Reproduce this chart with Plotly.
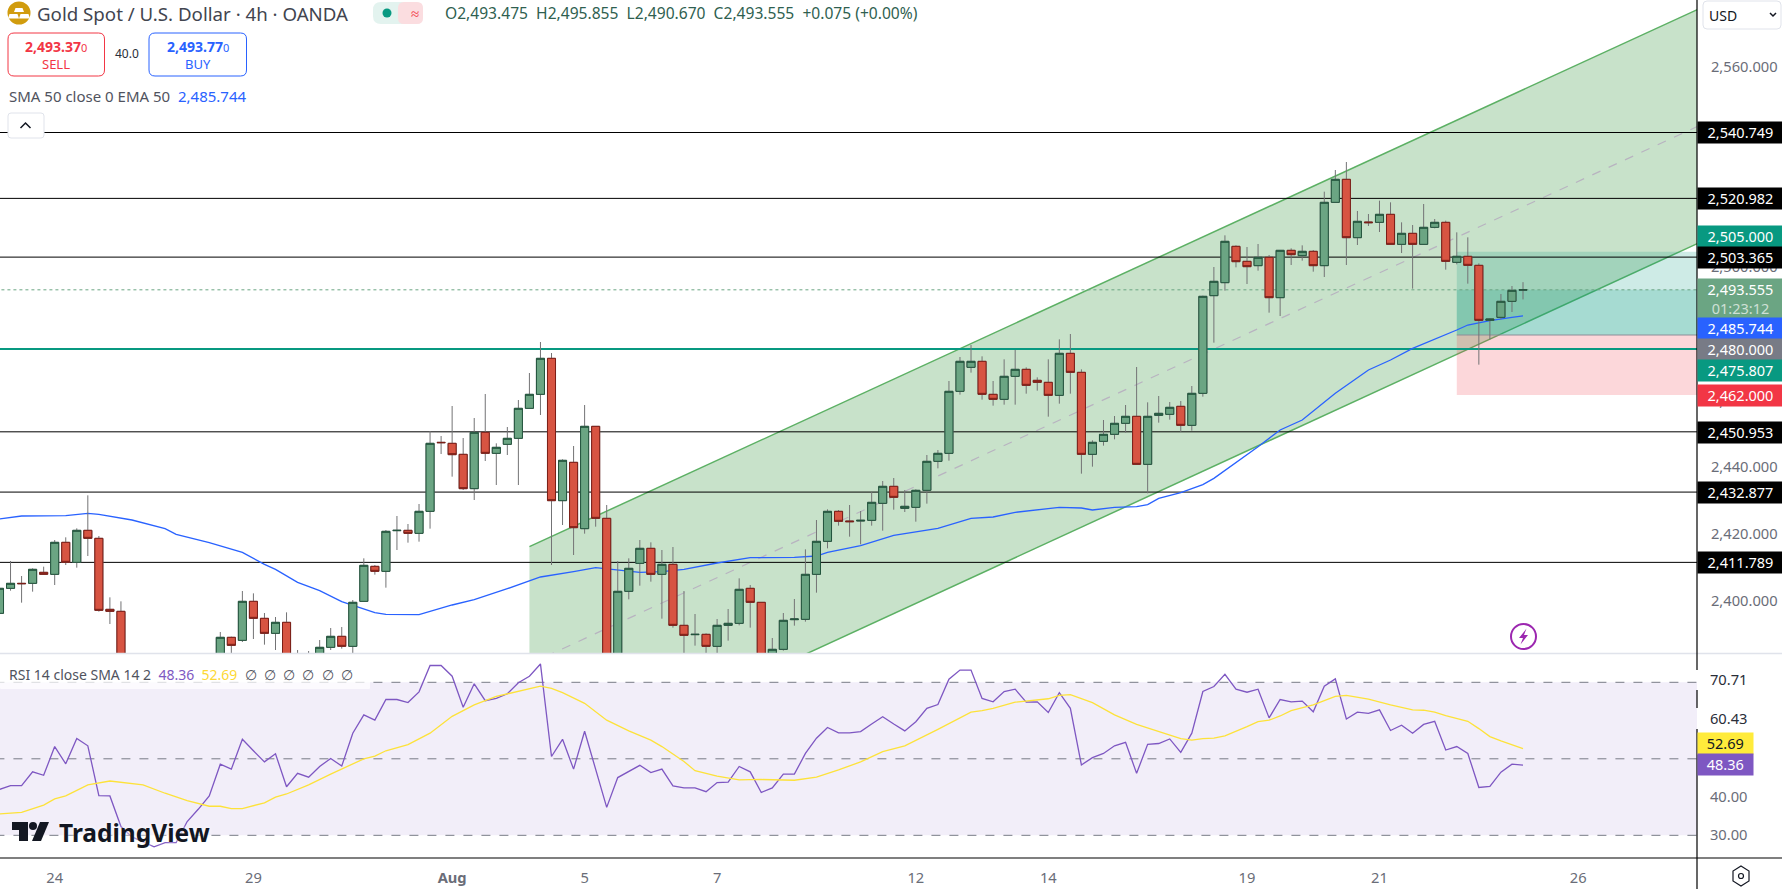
import plotly.graph_objects as go

W, H = 1782, 889
FONT = "Noto Sans"

# --- candles (bar 0 is the partial one on the left edge)
opens = [2396.5, 2404.0, 2405.5, 2405.5, 2408.8, 2408.2, 2417.8, 2411.8, 2421.4, 2419.0,
         2397.7, 2397.1, 2378.5, 2374.0, 2377.0, 2371.0, 2374.0, 2373.5, 2378.0, 2380.5,
         2383.0, 2389.3, 2388.4, 2400.1, 2395.0, 2390.5, 2393.8, 2380.5, 2381.5, 2384.0,
         2386.3, 2389.6, 2386.6, 2400.1, 2410.6, 2409.1, 2421.3, 2421.4, 2420.5, 2427.1,
         2447.8, 2447.5, 2444.2, 2433.9, 2450.8, 2444.5, 2447.2, 2449.0, 2458.0, 2462.2,
         2473.0, 2430.3, 2441.8, 2421.9, 2452.6, 2425.0, 2371.5, 2403.1, 2411.5, 2416.0,
         2408.2, 2411.2, 2392.9, 2390.1, 2390.2, 2386.6, 2392.9, 2393.5, 2404.0, 2399.8,
         2377.5, 2385.7, 2394.6, 2394.7, 2408.2, 2418.1, 2427.1, 2424.2, 2424.2, 2424.4,
         2429.5, 2434.6, 2428.0, 2428.3, 2433.4, 2442.1, 2444.5, 2463.1, 2470.3, 2472.1,
         2462.2, 2460.7, 2467.6, 2469.7, 2466.4, 2465.8, 2461.9, 2474.5, 2468.8, 2444.2,
         2448.1, 2450.2, 2453.5, 2455.6, 2441.2, 2455.9, 2456.2, 2458.6, 2452.9, 2462.5,
         2491.8, 2495.7, 2506.6, 2502.1, 2500.8, 2503.3, 2491.2, 2505.4, 2503.8, 2505.1,
         2500.8, 2519.8, 2526.7, 2509.2, 2513.9, 2513.8, 2516.2, 2507.2, 2510.5, 2507.2,
         2512.3, 2513.8, 2501.8, 2503.6, 2500.9, 2484.4, 2485.3, 2490.1, 2493.475]
highs = [2404.0, 2412.2, 2407.7, 2410.0, 2410.5, 2418.5, 2419.3, 2422.0, 2431.9, 2419.7,
         2401.3, 2400.1, 2381.0, 2379.0, 2380.0, 2376.0, 2377.0, 2380.0, 2382.0, 2384.0,
         2390.9, 2389.5, 2403.2, 2402.5, 2396.6, 2395.4, 2396.8, 2385.5, 2385.2, 2388.5,
         2392.1, 2392.4, 2400.5, 2413.0, 2411.0, 2421.5, 2425.7, 2423.3, 2429.3, 2451.2,
         2449.7, 2458.7, 2449.1, 2455.1, 2462.3, 2447.5, 2452.4, 2460.5, 2468.6, 2477.9,
         2474.6, 2442.7, 2446.7, 2459.0, 2452.6, 2429.0, 2412.2, 2413.0, 2418.5, 2417.8,
         2415.5, 2416.4, 2403.2, 2396.3, 2390.5, 2394.8, 2397.8, 2407.0, 2405.0, 2399.8,
         2389.1, 2396.6, 2400.8, 2415.7, 2424.5, 2427.7, 2427.5, 2429.0, 2427.2, 2432.9,
         2436.2, 2437.1, 2433.5, 2433.7, 2444.0, 2445.5, 2466.2, 2473.4, 2477.0, 2473.6,
         2466.2, 2472.7, 2475.5, 2470.3, 2467.3, 2472.7, 2478.7, 2480.3, 2469.7, 2448.4,
         2454.5, 2455.7, 2459.0, 2470.4, 2459.8, 2461.7, 2459.9, 2460.2, 2464.7, 2491.8,
         2500.4, 2509.9, 2506.9, 2506.4, 2507.3, 2504.0, 2505.4, 2506.0, 2506.9, 2505.5,
         2523.0, 2529.5, 2531.9, 2517.2, 2516.3, 2520.3, 2519.8, 2513.8, 2513.0, 2519.3,
         2514.8, 2514.3, 2510.8, 2509.3, 2501.5, 2485.0, 2492.3, 2494.7, 2495.855]
lows = [2396.0, 2403.3, 2399.7, 2403.0, 2408.2, 2405.0, 2411.0, 2410.2, 2413.7, 2397.0,
        2393.3, 2377.0, 2372.0, 2371.0, 2369.0, 2368.0, 2371.0, 2372.0, 2376.0, 2379.0,
        2381.0, 2384.5, 2387.9, 2388.8, 2387.1, 2385.5, 2378.0, 2377.0, 2379.0, 2382.0,
        2385.5, 2385.9, 2384.5, 2400.1, 2408.1, 2404.2, 2415.5, 2417.7, 2418.0, 2421.9,
        2444.3, 2437.5, 2433.5, 2430.5, 2442.2, 2435.0, 2444.0, 2435.0, 2458.0, 2456.0,
        2411.0, 2423.0, 2414.0, 2420.4, 2422.5, 2368.0, 2369.0, 2400.7, 2404.8, 2406.0,
        2394.9, 2392.2, 2382.5, 2386.8, 2383.5, 2383.0, 2388.3, 2392.9, 2392.2, 2375.0,
        2376.0, 2385.3, 2392.8, 2394.0, 2402.7, 2416.0, 2422.8, 2419.5, 2417.2, 2422.8,
        2421.3, 2427.6, 2426.9, 2424.0, 2429.4, 2440.0, 2442.3, 2462.1, 2468.7, 2460.6,
        2458.8, 2459.1, 2459.1, 2462.4, 2463.3, 2455.5, 2459.4, 2462.4, 2438.4, 2440.5,
        2446.8, 2448.7, 2450.7, 2441.2, 2432.5, 2453.7, 2454.6, 2450.9, 2451.3, 2461.5,
        2477.7, 2493.3, 2500.3, 2495.3, 2499.3, 2486.7, 2485.7, 2501.0, 2502.3, 2499.0,
        2497.4, 2519.8, 2501.0, 2507.0, 2512.7, 2510.9, 2507.2, 2504.6, 2493.9, 2507.2,
        2512.0, 2499.6, 2501.2, 2495.4, 2471.1, 2478.7, 2484.7, 2486.9, 2490.670]
closes = [2404.0, 2405.5, 2405.4, 2409.7, 2408.2, 2417.8, 2411.8, 2421.4, 2419.0, 2397.4,
          2397.1, 2378.5, 2374.0, 2377.0, 2371.0, 2374.0, 2373.5, 2378.0, 2380.5, 2383.0,
          2389.3, 2386.9, 2400.1, 2395.0, 2390.5, 2393.8, 2380.5, 2381.5, 2383.0, 2386.3,
          2389.6, 2386.6, 2399.8, 2410.9, 2409.1, 2421.1, 2421.4, 2420.5, 2427.1, 2447.5,
          2447.7, 2444.1, 2433.9, 2450.8, 2444.5, 2446.3, 2449.0, 2458.0, 2462.2, 2473.0,
          2430.3, 2442.4, 2422.2, 2452.6, 2425.0, 2370.5, 2403.1, 2410.0, 2416.0, 2408.2,
          2411.2, 2392.9, 2389.9, 2390.2, 2386.6, 2392.9, 2393.5, 2403.7, 2399.8, 2377.5,
          2385.7, 2394.4, 2394.8, 2408.2, 2418.1, 2427.1, 2424.1, 2424.0, 2424.4, 2429.8,
          2434.6, 2431.3, 2428.6, 2433.4, 2442.1, 2444.5, 2463.1, 2472.1, 2472.1, 2462.2,
          2460.7, 2467.6, 2469.7, 2464.9, 2465.8, 2461.9, 2474.5, 2468.8, 2444.2, 2447.8,
          2450.2, 2453.5, 2455.6, 2441.2, 2455.6, 2456.5, 2458.3, 2452.9, 2462.5, 2491.6,
          2496.1, 2508.1, 2502.0, 2500.5, 2503.3, 2491.2, 2505.4, 2504.1, 2505.1, 2500.8,
          2519.8, 2526.7, 2509.2, 2514.1, 2513.7, 2516.2, 2507.2, 2510.5, 2507.2, 2512.3,
          2513.8, 2502.1, 2503.6, 2500.9, 2484.4, 2484.8, 2490.1, 2493.4, 2493.555]
bars = list(range(len(closes)))

# EMA 50, sampled at the bars where the curve bends
ema_bars = [0, 2, 6, 8, 9, 12, 15, 16, 19, 22, 24, 25, 27, 29, 31, 34, 35, 38, 41, 43, 46, 49, 52, 54,
            58, 60, 62, 65, 68, 72, 74, 75, 78, 81, 85, 88, 90, 92, 96, 98, 99, 101, 103, 104, 105,
            107, 109, 110, 114, 116, 118, 121, 124, 126, 128, 130, 132, 133, 135, 137, 138]
ema_vals = [2424.8, 2425.7, 2425.8, 2426.5, 2426.2, 2424.5, 2421.9, 2420.2, 2417.7, 2414.8, 2411.2,
            2409.7, 2405.8, 2403.3, 2400.0, 2396.7, 2396.2, 2396.1, 2399.0, 2400.6, 2403.9, 2407.4,
            2409.0, 2410.2, 2408.8, 2409.0, 2409.7, 2411.6, 2413.2, 2413.3, 2413.7, 2414.8, 2416.8,
            2419.9, 2422.0, 2425.0, 2425.4, 2426.8, 2428.3, 2428.1, 2427.5, 2428.3, 2428.5, 2429.1,
            2431.0, 2432.7, 2435.1, 2437.0, 2446.5, 2451.5, 2454.5, 2462.5, 2469.5, 2472.5, 2476.0,
            2478.7, 2481.5, 2483.0, 2484.3, 2485.3, 2485.744]

rsi_vals = [42.0, 43.0, 43.0, 46.6, 45.7, 53.2, 48.7, 55.3, 53.4, 40.4, 40.3, 32.3, 29.6, 28.3, 27.0,
            28.1, 28.1, 33.6, 36.8, 40.3, 48.6, 47.3, 55.1, 52.1, 49.2, 51.3, 42.7, 46.2, 45.2, 48.0,
            50.1, 48.1, 56.7, 61.5, 60.1, 65.5, 65.5, 64.7, 67.5, 74.4, 74.4, 71.6, 63.5, 69.6, 65.2,
            65.8, 67.0, 69.9, 71.6, 74.8, 50.6, 55.1, 47.3, 57.2, 47.1, 37.3, 45.1, 46.6, 48.3, 46.4,
            47.3, 42.9, 42.4, 42.4, 41.4, 43.8, 43.9, 48.0, 46.6, 41.2, 42.4, 46.0, 46.0, 51.4, 55.4,
            58.2, 56.8, 56.8, 57.1, 59.1, 61.0, 59.1, 57.3, 59.7, 63.2, 64.2, 70.8, 73.2, 73.2, 65.8,
            64.9, 67.6, 68.2, 64.8, 64.9, 62.1, 67.3, 63.2, 48.4, 50.3, 51.4, 53.4, 54.3, 46.2, 53.8,
            54.0, 55.2, 51.7, 56.7, 67.6, 68.9, 72.1, 68.2, 67.4, 68.2, 60.7, 65.5, 64.9, 65.1, 62.3,
            69.0, 70.9, 60.4, 62.2, 61.9, 62.8, 57.4, 58.8, 56.7, 59.0, 59.8, 52.3, 53.2, 51.4, 42.5,
            42.8, 46.5, 48.6, 48.36]
rsi_sma_bars = [0, 2, 4, 5, 6, 8, 10, 13, 15, 17, 19, 20, 21, 22, 24, 25, 26, 28, 30, 31, 33, 34, 35,
                37, 39, 41, 43, 45, 47, 49, 50, 51, 53, 55, 57, 59, 60, 62, 63, 65, 67, 69, 72, 74,
                76, 78, 80, 82, 85, 88, 89, 90, 92, 94, 95, 96, 97, 99, 101, 103, 105, 107, 108, 109,
                110, 111, 113, 114, 115, 116, 117, 119, 120, 121, 122, 124, 126, 128, 129, 130, 131,
                133, 134, 135, 136, 138]
rsi_sma_vals = [35.6, 36.0, 37.9, 39.5, 40.3, 43.2, 44.2, 43.2, 41.0, 39.1, 37.6, 37.6, 37.0, 37.0,
                38.5, 40.0, 40.8, 43.2, 46.0, 47.3, 50.0, 50.7, 52.1, 53.7, 56.7, 61.1, 64.1, 66.3,
                67.6, 69.0, 68.4, 67.3, 64.5, 60.1, 57.3, 54.9, 53.2, 49.3, 46.9, 45.5, 44.5, 44.6,
                44.4, 45.2, 47.1, 49.2, 51.9, 53.4, 57.7, 62.2, 62.6, 63.2, 64.8, 65.4, 65.7, 66.6,
                66.8, 64.7, 61.5, 59.0, 57.1, 55.3, 54.9, 55.3, 55.4, 56.0, 58.4, 59.7, 60.1, 61.2,
                62.6, 64.1, 65.2, 66.3, 66.6, 65.6, 64.1, 62.8, 62.7, 62.2, 61.3, 59.8, 57.9, 55.8,
                54.7, 52.69]

# drawings on the chart
support_levels = [2540.749, 2520.982, 2503.365, 2450.953, 2432.877, 2411.789]
teal_level = 2475.807
last_price = 2493.555
channel_x = [48, 156]
channel_top = [2416.5, 2581.0]
channel_bottom = [2346.1, 2510.8]
channel_mid = [2381.3, 2545.9]
position_x = [132, 156]
target_price, entry_price, stop_price = 2505.0, 2480.0, 2462.0
rsi_levels = [70, 50, 30]

time_bars = [5, 23, 41, 53, 65, 83, 95, 113, 125, 143]
time_labels = ["24", "29", "<b>Aug</b>", "5", "7", "12", "14", "19", "21", "26"]
price_ticks = [2400, 2420, 2440, 2460, 2500, 2560]
rsi_ticks = [70.71, 60.43, 40.0, 30.0]
rsi_tick_labels = ['<span style="color:#2a2e39">70.71</span>', '<span style="color:#2a2e39">60.43</span>',
                   "40.00", "30.00"]

PRICE_RANGE = [2384.6, 2580.5]
RSI_RANGE = [24.07, 77.4]
X_RANGE = [0.045, 153.76]
AXIS_X = 1697


def px(x):
    return x / W


def py(y):
    return 1 - y / H


def rrect(x0, y0, x1, y1, r):
    # rounded rectangle as an svg path, corners given in screen pixels
    return (f"M{px(x0 + r)},{py(y0)} L{px(x1 - r)},{py(y0)} Q{px(x1)},{py(y0)} {px(x1)},{py(y0 + r)} "
            f"L{px(x1)},{py(y1 - r)} Q{px(x1)},{py(y1)} {px(x1 - r)},{py(y1)} "
            f"L{px(x0 + r)},{py(y1)} Q{px(x0)},{py(y1)} {px(x0)},{py(y1 - r)} "
            f"L{px(x0)},{py(y0 + r)} Q{px(x0)},{py(y0)} {px(x0 + r)},{py(y0)} Z")


def poly(points):
    return "M" + " L".join(f"{px(x)},{py(y)}" for x, y in points) + " Z"


fig = go.Figure()


def hline(level, color, width, dash="solid", xaxis="x", yaxis="y"):
    fig.add_trace(go.Scatter(x=[-2, 156], y=[level, level], mode="lines", xaxis=xaxis, yaxis=yaxis,
                             line=dict(color=color, width=width, dash=dash), hoverinfo="skip"))


# channel
fig.add_trace(go.Scatter(x=channel_x + channel_x[::-1], y=channel_top + channel_bottom[::-1], mode="lines",
                         fill="toself", fillcolor="rgba(76,160,85,0.31)", line=dict(width=0), hoverinfo="skip"))
for edge in (channel_top, channel_bottom):
    fig.add_trace(go.Scatter(x=channel_x, y=edge, mode="lines", line=dict(color="#5cb064", width=1.5), hoverinfo="skip"))
fig.add_trace(go.Scatter(x=channel_x, y=channel_mid, mode="lines",
                         line=dict(color="#b8b3c0", width=1.2, dash="dash"), hoverinfo="skip"))

# long position box
for y_a, y_b, fill in [(target_price, entry_price, "rgba(8,153,129,0.2)"),
                       (last_price, entry_price, "rgba(8,153,129,0.2)"),
                       (entry_price, stop_price, "rgba(242,54,69,0.2)")]:
    fig.add_trace(go.Scatter(x=position_x + position_x[::-1], y=[y_a, y_a, y_b, y_b], mode="lines",
                             fill="toself", fillcolor=fill, line=dict(width=0), hoverinfo="skip"))
fig.add_trace(go.Scatter(x=position_x, y=[entry_price, entry_price], mode="lines",
                         line=dict(color="#8b8e98", width=1), hoverinfo="skip"))

for level in support_levels:
    hline(level, "#000000", 1)
hline(teal_level, "#089981", 2.2)
hline(last_price, "#6BA583", 1, "dot")

fig.add_trace(go.Scatter(x=ema_bars, y=ema_vals, mode="lines", line=dict(color="#2962FF", width=1.3), hoverinfo="skip"))

# candles: gray wicks first, then bodies with their dark outline on a second pass
fig.add_trace(go.Candlestick(x=bars, open=opens, high=highs, low=lows, close=closes, yaxis="y3", xaxis="x",
                             increasing=dict(line=dict(color="#737375", width=1), fillcolor="#6BA583"),
                             decreasing=dict(line=dict(color="#737375", width=1), fillcolor="#D75442"),
                             hoverinfo="skip"))
body_top = [max(o, c) for o, c in zip(opens, closes)]
body_low = [min(o, c) for o, c in zip(opens, closes)]
fig.add_trace(go.Candlestick(x=bars, open=opens, high=body_top, low=body_low, close=closes, yaxis="y3", xaxis="x",
                             increasing=dict(line=dict(color="#22543D", width=1), fillcolor="#6BA583"),
                             decreasing=dict(line=dict(color="#7B1E17", width=1), fillcolor="#D75442"),
                             hoverinfo="skip"))

# rsi pane
fig.add_trace(go.Scatter(x=[-2, 156, 156, -2], y=[70, 70, 30, 30], mode="lines", xaxis="x2", yaxis="y2",
                         fill="toself", fillcolor="rgba(126,87,194,0.1)", line=dict(width=0), hoverinfo="skip"))
for level in rsi_levels:
    hline(level, "#787B86", 1, "dash", "x2", "y2")
fig.add_trace(go.Scatter(x=bars, y=rsi_vals, mode="lines", xaxis="x2", yaxis="y2",
                         line=dict(color="#7E57C2", width=1.3), hoverinfo="skip"))
fig.add_trace(go.Scatter(x=rsi_sma_bars, y=rsi_sma_vals, mode="lines", xaxis="x2", yaxis="y2",
                         line=dict(color="#FDE23A", width=1.3), hoverinfo="skip"))

fig.update_layout(
    width=W, height=H, margin=dict(l=0, r=0, t=0, b=0), paper_bgcolor="white", plot_bgcolor="white",
    showlegend=False, boxmode="overlay", boxgap=0.27, boxgroupgap=0, dragmode=False,
    font=dict(family=FONT, size=14.7, color="#6a6d78"),
    xaxis=dict(domain=[0, AXIS_X / W], range=X_RANGE, anchor="y", showgrid=False, zeroline=False,
               showticklabels=False, ticks="", rangeslider=dict(visible=False)),
    yaxis=dict(domain=[1 - 653 / H, 1], range=PRICE_RANGE, side="right", anchor="x", showgrid=False,
               zeroline=False, tickvals=price_ticks, tickformat=",.3f", ticks="outside", ticklen=10,
               tickcolor="rgba(0,0,0,0)", ticklabelshift=-1),
    yaxis3=dict(overlaying="y", range=PRICE_RANGE, visible=False),
    xaxis2=dict(domain=[0, AXIS_X / W], range=X_RANGE, anchor="y2", showgrid=False, zeroline=False,
                tickvals=time_bars, ticktext=time_labels, ticks="outside", ticklen=6,
                tickcolor="rgba(0,0,0,0)", rangeslider=dict(visible=False)),
    yaxis2=dict(domain=[1 - 858 / H, 1 - 654 / H], range=RSI_RANGE, side="right", anchor="x2", showgrid=False,
                zeroline=False, tickvals=rsi_ticks, ticktext=rsi_tick_labels, ticks="outside", ticklen=9,
                tickcolor="rgba(0,0,0,0)"),
)

shapes = []


def line_px(x0, y0, x1, y1, color, width=1):
    shapes.append(dict(type="line", xref="paper", yref="paper", x0=px(x0), y0=py(y0), x1=px(x1), y1=py(y1),
                       line=dict(color=color, width=width)))


def path_px(path, fill="rgba(0,0,0,0)", color="rgba(0,0,0,0)", width=1):
    shapes.append(dict(type="path", xref="paper", yref="paper", path=path, fillcolor=fill,
                       line=dict(color=color, width=width)))


def circle_px(cx, cy, r, fill="rgba(0,0,0,0)", color="rgba(0,0,0,0)", width=1):
    shapes.append(dict(type="circle", xref="paper", yref="paper", x0=px(cx - r), x1=px(cx + r),
                       y0=py(cy - r), y1=py(cy + r), fillcolor=fill, line=dict(color=color, width=width)))


# pane frames, the scale line stops behind the two dark rsi labels
line_px(0, 653.5, W, 653.5, "#E0E3EB", 1.5)
line_px(0, 858, W, 858, "#000000", 1.2)
line_px(AXIS_X, 0, AXIS_X, 670, "#000000", 1.2)
line_px(AXIS_X, 690, AXIS_X, 708, "#000000", 1.2)
line_px(AXIS_X, 729, AXIS_X, H, "#000000", 1.2)

# header widgets
circle_px(19, 13, 11.5, fill="#D19C0E")
path_px(poly([(15.5, 8), (22.5, 8), (24, 12), (14, 12)]), fill="white")
path_px(poly([(9.5, 14), (17.5, 14), (19, 18.5), (8, 18.5)]), fill="white")
path_px(poly([(20.5, 14), (28.5, 14), (30, 18.5), (19, 18.5)]), fill="white")
path_px(rrect(373, 2, 423, 24, 8), fill="#E3F3EF")
path_px(rrect(398, 2, 423, 24, 6), fill="#FBDDE0")
circle_px(387, 13, 4.5, fill="#089981")
path_px(rrect(8, 33, 104.5, 76, 6), fill="white", color="#F23645")
path_px(rrect(149, 33, 246.5, 76, 6), fill="white", color="#2962FF")
path_px(rrect(8, 113, 44, 138, 3), fill="white", color="#E0E3EB")
shapes.append(dict(type="path", xref="paper", yref="paper", path=f"M{px(20.5)},{py(128)} L{px(25.5)},{py(123)} L{px(30.5)},{py(128)}",
                   line=dict(color="#131722", width=1.5)))
path_px(rrect(1703, 1, 1781, 29, 4), fill="white", color="#E0E3EB")
shapes.append(dict(type="path", xref="paper", yref="paper", path=f"M{px(1770)},{py(13)} L{px(1773)},{py(16)} L{px(1776)},{py(13)}",
                   line=dict(color="#131722", width=1.5)))

# lightning badge
circle_px(1523.5, 636.5, 12.5, color="#9C27B0", width=2)
path_px(poly([(1526.5, 628.5), (1519, 638), (1523, 638), (1520.5, 644.5), (1528, 635), (1524, 635)]), fill="#9C27B0")

# gear at bottom right
path_px(poly([(1741, 866), (1749, 871), (1749, 881), (1741, 886), (1733, 881), (1733, 871)]), color="#131722", width=1.2)
circle_px(1741, 876, 2.5, color="#131722", width=1.2)

# rsi legend backing and logo mark
path_px(rrect(0, 660, 370, 689, 1), fill="rgba(255,255,255,0.72)")
path_px(poly([(12, 822), (28, 822), (28, 841), (19, 841), (19, 830), (12, 830)]), fill="#131722")
circle_px(33, 826, 4, fill="#131722")
path_px(poly([(40, 822), (49, 822), (41, 841), (32, 841)]), fill="#131722")

fig.update_layout(shapes=shapes)


def text(txt, x, y, size, color, anchor="left", **kw):
    fig.add_annotation(xref="paper", yref="paper", x=px(x), y=py(y), text=txt, showarrow=False, xanchor=anchor,
                       yanchor="middle", font=dict(family=FONT, size=size, color=color, **kw), borderpad=0)


def tag(txt, y, bg, fg="white", wide=85, high=20.6):
    fig.add_annotation(xref="paper", yref="paper", x=(AXIS_X - 0.5) / W, y=py(y), text=txt, showarrow=False, xanchor="left",
                       yanchor="middle", width=wide, height=high, align="center", bgcolor=bg, borderpad=0,
                       font=dict(family=FONT, size=14.5, color=fg))


text("Gold Spot / U.S. Dollar · 4h · OANDA", 35.5, 14, 18.7, "#42454f")
text("≈", 410, 13, 15, "#F23645")
text("O2,493.475  H2,495.855  L2,490.670  C2,493.555  +0.075 (+0.00%)", 444, 13.5, 15.6, "#2f5f50")
small = '<span style="font-size:11px;font-weight:normal">0</span>'
text("<b>2,493.37</b>" + small, 56, 46, 14, "#F23645", "center")
text("SELL", 56, 64, 13, "#F23645", "center")
text("40.0", 127, 53.5, 12, "#2a2e39", "center")
text("<b>2,493.77</b>" + small, 198, 46, 14, "#2962FF", "center")
text("BUY", 198, 64, 13, "#2962FF", "center")
text('SMA 50 close 0 EMA 50  <span style="color:#2962FF">2,485.744</span>', 8, 96, 15, "#50535e")
text("USD", 1708, 15, 14, "#131722")
text('RSI 14 close SMA 14 2  <span style="color:#7E57C2">48.36</span>  <span style="color:#FDD835">52.69</span>  '
     "∅  ∅  ∅  ∅  ∅  ∅", 8, 674, 14, "#50535e")
text("<b>TradingView</b>", 58, 832, 24.5, "#131722", shadow="0 0 4px white")

tag("2,540.749", 132.3, "#000000")
tag("2,520.982", 198.3, "#000000")
tag("2,505.000", 236, "#089981")
tag("2,503.365", 257.3, "#000000")
tag('2,493.555<br><span style="color:#cfe0d6">01:23:12</span>', 298.5, "#6BA583", high=38.5)
tag("2,485.744", 328.6, "#2962FF")
tag("2,480.000", 349.6, "#787B86")
tag("2,475.807", 371, "#089981")
tag("2,462.000", 395.3, "#F23645")
tag("2,450.953", 432.3, "#000000")
tag("2,432.877", 492.3, "#000000")
tag("2,411.789", 562.3, "#000000")
tag("52.69", 743.5, "#FFEB3B", "#131722", wide=54.5)
tag("48.36", 764.5, "#7E57C2", wide=54.5)

fig.write_html("out.html", config={"displayModeBar": False},
               post_script="document.body.style.margin='0';document.body.style.overflow='hidden';")
